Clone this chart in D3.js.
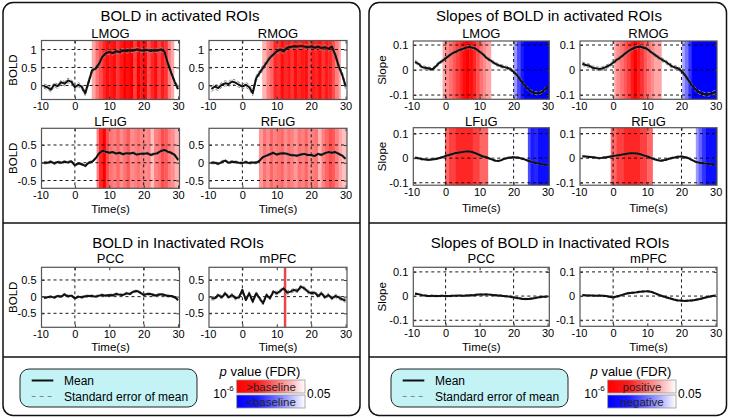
<!DOCTYPE html>
<html><head><meta charset="utf-8">
<script src="https://cdn.jsdelivr.net/npm/d3@7"></script>
<style>body{margin:0;background:#fff} svg{display:block} text{font-family:"Liberation Sans",Arial,sans-serif;font-weight:normal}</style>
</head><body><svg id="c" width="730" height="418"></svg>
<script>
// ---------------- DATA ----------------
const times = [-9,-8,-7,-6,-5,-4,-3,-2,-1,0,1,2,3,4,5,6,7,8,9,10,11,12,13,14,15,16,17,18,19,20,21,22,23,24,25,26,27,28,29,30];
const xTicks = [-10,0,10,20,30];
const xGrid = [0,20];
const boldTicksTop = [0,0.5,1];
const boldTicksLow = [-0.5,0,0.5];
const slopeTicks = [-0.1,0,0.1];

// BOLD in activated ROIs
const boldLMOG = [-0.02,-0.05,-0.12,0.02,-0.02,0.09,0.05,0.14,0.10,-0.05,0.02,-0.04,-0.22,0.10,0.42,0.47,0.60,0.80,0.90,0.93,0.90,0.95,0.93,0.97,0.96,0.98,0.97,1.00,0.98,0.97,0.99,0.96,0.98,0.97,1.00,0.95,0.62,0.35,0.10,-0.10];
const boldRMOG = [-0.10,-0.03,-0.07,0.02,0.06,0.04,0.11,0.08,0.02,-0.03,0.02,-0.05,-0.21,0.20,0.35,0.49,0.63,0.77,0.86,0.95,1.00,0.95,1.05,1.07,1.09,1.08,1.10,1.08,1.06,1.09,1.05,1.08,1.04,1.06,1.02,1.08,0.85,0.53,0.30,-0.02];
const boldLFuG = [0.00,0.00,0.03,-0.02,0.02,0.00,0.03,0.01,0.04,-0.07,-0.02,-0.04,-0.09,0.00,0.03,0.12,0.26,0.34,0.31,0.28,0.30,0.26,0.28,0.24,0.27,0.26,0.28,0.23,0.25,0.25,0.27,0.22,0.25,0.27,0.33,0.36,0.31,0.28,0.22,0.08];
const boldRFuG = [0.00,0.00,-0.03,0.02,0.06,0.00,0.03,0.02,0.00,-0.01,0.02,-0.01,0.01,0.00,0.06,0.16,0.20,0.24,0.28,0.23,0.26,0.27,0.25,0.22,0.21,0.20,0.23,0.25,0.22,0.22,0.19,0.25,0.22,0.27,0.30,0.28,0.30,0.25,0.20,0.11];
// BOLD in inactivated ROIs
const boldPCC = [-0.03,-0.02,0.00,-0.03,0.02,0.00,0.07,0.01,0.03,-0.05,0.00,-0.02,0.01,0.02,0.02,0.00,0.03,0.05,0.03,0.05,0.04,0.08,0.06,0.05,0.10,0.08,0.15,0.17,0.12,0.05,0.08,0.08,0.04,0.05,0.07,0.05,0.02,0.02,-0.02,-0.10];
const boldMPFC = [-0.05,-0.05,0.05,-0.02,0.10,-0.02,0.05,-0.05,-0.02,0.20,-0.10,0.10,-0.15,0.10,-0.05,-0.20,0.05,-0.05,0.15,0.10,0.17,0.25,0.12,0.15,0.20,0.17,0.30,0.25,0.15,0.10,0.12,0.02,0.10,-0.02,0.05,-0.05,0.02,-0.02,-0.08,-0.12];
// Slopes of BOLD
const slopeLMOG = [0.033,0.025,0.013,0.009,0.007,0.003,0.013,0.027,0.036,0.047,0.057,0.067,0.073,0.080,0.084,0.089,0.092,0.089,0.084,0.073,0.063,0.049,0.040,0.031,0.023,0.017,0.013,0.009,0.004,-0.007,-0.020,-0.040,-0.057,-0.073,-0.084,-0.091,-0.093,-0.090,-0.080,-0.067];
const slopeRMOG = [0.026,0.020,0.017,0.009,0.007,0.004,0.007,0.013,0.020,0.029,0.040,0.049,0.060,0.071,0.080,0.087,0.092,0.093,0.089,0.084,0.073,0.063,0.053,0.044,0.036,0.027,0.017,0.011,0.007,-0.004,-0.020,-0.040,-0.060,-0.076,-0.087,-0.093,-0.097,-0.097,-0.093,-0.087];
const slopeLFuG = [0.002,0.000,-0.004,-0.005,-0.007,-0.005,-0.003,0.000,0.004,0.009,0.013,0.017,0.021,0.023,0.025,0.027,0.027,0.024,0.019,0.013,0.007,0.004,-0.002,-0.007,-0.011,-0.010,-0.004,0.000,0.003,0.004,0.003,0.000,-0.004,-0.009,-0.014,-0.018,-0.021,-0.023,-0.026,-0.028];
const slopeRFuG = [0.008,0.007,0.005,0.004,0.002,0.000,0.002,0.004,0.006,0.009,0.011,0.013,0.016,0.018,0.020,0.020,0.019,0.016,0.011,0.007,0.001,-0.004,-0.008,-0.010,-0.008,-0.004,0.000,0.003,0.006,0.007,0.004,0.000,-0.007,-0.014,-0.018,-0.020,-0.022,-0.023,-0.025,-0.026];
const slopePCC = [0.010,0.008,0.004,0.002,0.000,0.001,0.000,0.000,0.001,0.000,0.000,0.001,0.001,0.002,0.001,0.002,0.003,0.003,0.005,0.006,0.006,0.007,0.006,0.004,0.003,0.002,0.000,-0.001,-0.003,-0.005,-0.008,-0.010,-0.012,-0.012,-0.011,-0.009,-0.006,-0.004,-0.003,-0.002];
const slopeMPFC = [0.004,0.003,0.002,0.002,0.001,0.002,0.001,0.000,-0.003,-0.005,-0.002,0.002,0.006,0.011,0.013,0.014,0.016,0.018,0.019,0.020,0.018,0.013,0.007,0.002,-0.003,-0.007,-0.011,-0.015,-0.018,-0.019,-0.020,-0.019,-0.018,-0.016,-0.013,-0.010,-0.006,-0.003,0.000,0.002];
// standard error of mean (approximate, per ROI)
const semBold = {LMOG:0.06, RMOG:0.07, LFuG:0.03, RFuG:0.03, PCC:0.03, mPFC:0.05};
const semSlope = {LMOG:0.006, RMOG:0.007, LFuG:0.003, RFuG:0.003, PCC:0.003, mPFC:0.003};

// significance bins [t0, t1, strength 0..1]  (red: >baseline / positive, blue: <baseline / negative)
const sigBoldLMOG = [[4.9,6,0.35],[6,7,0.55],[7,8,0.7],[8,9,0.85],[9,10,0.95],[10,11,0.9],[11,12,0.95],[12,13,0.8],[13,14,0.9],[14,15,1],[15,16,0.95],[16,17,1],[17,18,0.75],[18,19,1],[19,20,0.9],[20,21,0.95],[21,22,0.7],[22,23,0.85],[23,24,0.95],[24,25,0.75],[25,26,0.9],[26,27,0.8],[27,28,0.5],[28,28.75,0.35]];
const sigBoldRMOG = [[5.75,7,0.3],[7,8,0.5],[8,9,0.6],[9,10,0.85],[10,11,0.8],[11,12,0.95],[12,13,0.85],[13,14,0.9],[14,15,0.8],[15,16,0.95],[16,17,0.85],[17,18,0.9],[18,19,0.95],[19,20,0.75],[20,21,0.9],[21,22,0.85],[22,23,0.95],[23,24,0.8],[24,25,0.9],[25,26,0.85],[26,27,0.7],[27,28,0.5],[28,28.5,0.35]];
const sigBoldLFuG = [[6.3,7,0.5],[7,8,0.85],[8,9,1],[9,10,0.7],[10,11,0.55],[11,12,0.5],[12,13,0.6],[13,14,0.45],[14,15,0.55],[15,16,0.65],[16,17,0.45],[17,18,0.5],[18,19,0.55],[19,20,0.5],[20,21,0.45],[21,22,0.5],[22,23,0.25],[23,24,0.5],[24,25,0.55],[25,26,0.7],[26,27,0.65],[27,28,0.5],[28,29,0.45],[29,30.5,0.3]];
const sigBoldRFuG = [[4.8,6,0.4],[6,7,0.55],[7,8,0.45],[8,9,0.6],[9,10,0.5],[10,11,0.55],[11,12,0.6],[12,13,0.45],[13,14,0.55],[14,15,0.5],[15,16,0.4],[16,17,0.55],[17,18,0.5],[18,19,0.6],[19,20,0.45],[20,21,0.5],[21,22,0.55],[22,23,0.3],[23,24,0.5],[24,25,0.6],[25,26,0.7],[26,27,0.65],[27,28,0.5],[28,29,0.35],[29,30.5,0.25]];
const sigSlopeLMOGpos = [[-0.9,0,0.35],[0,1,0.45],[1,2,0.55],[2,3,0.65],[3,4,0.75],[4,5,0.85],[5,6,0.95],[6,7,1],[7,8,0.95],[8,9,0.85],[9,10,0.7],[10,11,0.55],[11,12,0.45],[12,13.3,0.35]];
const sigSlopeLMOGneg = [[20,21,0.4],[21,22,0.7],[22,23,0.9],[23,31,1]];
const sigSlopeRMOGpos = [[0.3,1,0.35],[1,2,0.45],[2,3,0.55],[3,4,0.65],[4,5,0.75],[5,6,0.9],[6,7,1],[7,8,0.9],[8,9,0.8],[9,10,0.65],[10,11,0.55],[11,12,0.45],[12,14.1,0.35]];
const sigSlopeRMOGneg = [[20.2,21,0.35],[21,22,0.55],[22,23,0.8],[23,31,1]];
const sigSlopeLFuGpos = [[-0.2,1,0.6],[1,3,0.75],[3,8,0.85],[8,10,0.75],[10,12.4,0.6]];
const sigSlopeLFuGneg = [[24.2,25,0.7],[25,26,0.9],[26,27,0.85],[27,31,0.95]];
const sigSlopeRFuGpos = [[-0.7,1,0.6],[1,3,0.75],[3,8,0.85],[8,10,0.75],[10,11.5,0.6]];
const sigSlopeRFuGneg = [[24.2,25,0.4],[25,26,0.6],[26,27,0.8],[27,31,0.95]];
const mpfcMarker = [12.4];

// ---------------- DRAWING ----------------
const svg = d3.select("#c");
let clipN = 0;
const red = d3.interpolateRgb("#ffffff", "#ff0000");
const blue = d3.interpolateRgb("#ffffff", "#0000ff");
const FONT = '"Liberation Sans",Arial,sans-serif';

function plot(c) {
  const g = svg.append("g").attr("transform", `translate(${c.x},${c.y})`);
  const x = d3.scaleLinear().domain(c.xd).range([0, c.w]);
  const y = d3.scaleLinear().domain(c.yd).range([c.h, 0]);
  const id = "clip" + (clipN++);
  g.append("clipPath").attr("id", id).append("rect").attr("width", c.w).attr("height", c.h);
  const inner = g.append("g").attr("clip-path", `url(#${id})`);
  const shade = [].concat((c.pos||[]).map(d => [d[0], d[1], red(d[2])]), (c.neg||[]).map(d => [d[0], d[1], blue(d[2])]));
  inner.selectAll("rect.sh").data(shade).join("rect").attr("class","sh")
    .attr("x", d => x(d[0])).attr("width", d => x(d[1]) - x(d[0]) + 0.4)
    .attr("y", 0).attr("height", c.h).attr("fill", d => d[2]);
  inner.selectAll("line.hg").data(c.yTicks).join("line").attr("class","hg")
    .attr("x1", 0).attr("x2", c.w).attr("y1", d => y(d)).attr("y2", d => y(d))
    .attr("stroke", "#000").attr("stroke-width", 0.9).attr("stroke-dasharray", "3,3");
  inner.selectAll("line.vg").data(xGrid).join("line").attr("class","vg")
    .attr("y1", 0).attr("y2", c.h).attr("x1", d => x(d)).attr("x2", d => x(d))
    .attr("stroke", "#000").attr("stroke-width", 0.9).attr("stroke-dasharray", "3,3");
  if (c.marker) inner.selectAll("line.mk").data(c.marker).join("line")
    .attr("y1", 0).attr("y2", c.h).attr("x1", d => x(d)).attr("x2", d => x(d))
    .attr("stroke", "#e8474a").attr("stroke-width", 2.5);
  const line = d3.line().x((d, i) => x(times[i])).y(d => y(d)).curve(c.smooth ? d3.curveCatmullRom : d3.curveLinear);
  [c.sem, -c.sem].forEach(s => {
    inner.append("path").attr("d", line(c.data.map(v => v + s)))
      .attr("fill", "none").attr("stroke", "#888").attr("stroke-width", 1).attr("stroke-dasharray", "3,2");
  });
  inner.append("path").attr("d", line(c.data)).attr("fill", "none").attr("stroke", "#111").attr("stroke-width", 2).attr("stroke-linejoin", "round");
  const ax = (a) => a.tickSize(-3).tickSizeOuter(0);
  const fmt = d => String(d);
  const b = g.append("g").attr("transform", `translate(0,${c.h})`).call(ax(d3.axisBottom(x).tickValues(xTicks).tickFormat(fmt)).tickPadding(3));
  const t = g.append("g").call(ax(d3.axisTop(x).tickValues(xTicks).tickFormat("")));
  const l = g.append("g").call(ax(d3.axisLeft(y).tickValues(c.yTicks).tickFormat(fmt)).tickPadding(5));
  const r = g.append("g").attr("transform", `translate(${c.w},0)`).call(ax(d3.axisRight(y).tickValues(c.yTicks).tickFormat("")));
  [b, t, l, r].forEach(a => {
    a.select(".domain").remove();
    a.selectAll(".tick").filter(d => (a === b || a === t) ? (d < c.xd[0] || d > c.xd[1]) : false).select("line").remove();
    a.selectAll("line").attr("stroke", "#333");
    a.selectAll("text").attr("font-size", 11).attr("fill", "#000").attr("font-family", FONT);
  });
  g.append("rect").attr("width", c.w).attr("height", c.h).attr("fill", "none").attr("stroke", "#555").attr("stroke-width", 1.2);
  g.append("text").attr("x", c.w / 2).attr("y", c.titleY - c.y).attr("text-anchor", "middle").attr("font-size", 13).text(c.title);
  if (c.ylabel) g.append("text").attr("transform", `translate(${c.ylabelX - c.x},${c.h / 2}) rotate(-90)`)
    .attr("text-anchor", "middle").attr("dominant-baseline", "central").attr("font-size", 11.5).text(c.ylabel);
  if (c.xlabelY) g.append("text").attr("x", c.w / 2).attr("y", c.xlabelY - c.y).attr("text-anchor", "middle").attr("font-size", 11.5).text("Time(s)");
}

function panel(x0, x1) {
  svg.append("rect").attr("x", x0).attr("y", 2.5).attr("width", x1 - x0).attr("height", 413).attr("rx", 10)
    .attr("fill", "none").attr("stroke", "#111").attr("stroke-width", 1.5);
  [223, 357].forEach(yy => svg.append("line").attr("x1", x0).attr("x2", x1).attr("y1", yy).attr("y2", yy).attr("stroke", "#111").attr("stroke-width", 1.5));
}
panel(3, 360);
panel(369, 726.5);

function title(txt, x, y) {
  svg.append("text").attr("x", x).attr("y", y).attr("text-anchor", "middle").attr("font-size", 15).text(txt);
}
title("BOLD in activated ROIs", 180, 20.5);
title("Slopes of BOLD in activated ROIs", 549, 20.5);
title("BOLD in Inactivated ROIs", 178, 247.5);
title("Slopes of BOLD in Inactivated ROIs", 550, 247.5);

const BL = {x: 41.5, w: 138, xd: [-9.7, 30.4]};
const BR = {x: 209, w: 138, xd: [-9.7, 30.4]};
const SL = {x: 413.3, w: 136, xd: [-9.5, 30.5]};
const SR = {x: 580, w: 137, xd: [-9.7, 30.4]};
const rowB1 = {y: 40.5, h: 59, yd: [-0.39, 1.25], yTicks: boldTicksTop, titleY: 37.5};
const rowB2 = {y: 128.3, h: 60, yd: [-0.72, 0.97], yTicks: boldTicksLow, titleY: 126, xlabelY: 213};
const rowS1 = {y: 41, h: 58.3, yd: [-0.117, 0.116], yTicks: slopeTicks, titleY: 37.5};
const rowS2 = {y: 127.7, h: 57.5, yd: [-0.11, 0.124], yTicks: slopeTicks, titleY: 126, xlabelY: 212};
const rowB3 = {y: 267.3, h: 60, yd: [-0.92, 0.88], yTicks: boldTicksLow, titleY: 262.5, xlabelY: 351.5};
const rowS3 = {y: 267.3, h: 59, yd: [-0.125, 0.119], yTicks: slopeTicks, titleY: 262.5, xlabelY: 351.5};

plot({...BL, ...rowB1, title: "LMOG", data: boldLMOG, sem: semBold.LMOG, pos: sigBoldLMOG, ylabel: "BOLD", ylabelX: 13});
plot({...BR, ...rowB1, title: "RMOG", data: boldRMOG, sem: semBold.RMOG, pos: sigBoldRMOG});
plot({...BL, ...rowB2, title: "LFuG", data: boldLFuG, sem: semBold.LFuG, pos: sigBoldLFuG, ylabel: "BOLD", ylabelX: 13});
plot({...BR, ...rowB2, title: "RFuG", data: boldRFuG, sem: semBold.RFuG, pos: sigBoldRFuG});
plot({...SL, ...rowS1, title: "LMOG", data: slopeLMOG, sem: semSlope.LMOG, pos: sigSlopeLMOGpos, neg: sigSlopeLMOGneg, smooth: true, ylabel: "Slope", ylabelX: 382});
plot({...SR, ...rowS1, title: "RMOG", data: slopeRMOG, sem: semSlope.RMOG, pos: sigSlopeRMOGpos, neg: sigSlopeRMOGneg, smooth: true});
plot({...SL, ...rowS2, title: "LFuG", data: slopeLFuG, sem: semSlope.LFuG, pos: sigSlopeLFuGpos, neg: sigSlopeLFuGneg, smooth: true, ylabel: "Slope", ylabelX: 382});
plot({...SR, ...rowS2, title: "RFuG", data: slopeRFuG, sem: semSlope.RFuG, pos: sigSlopeRFuGpos, neg: sigSlopeRFuGneg, smooth: true});
plot({...BL, ...rowB3, title: "PCC", data: boldPCC, sem: semBold.PCC, ylabel: "BOLD", ylabelX: 13});
plot({...BR, ...rowB3, title: "mPFC", data: boldMPFC, sem: semBold.mPFC, marker: mpfcMarker});
plot({...SL, ...rowS3, title: "PCC", data: slopePCC, sem: semSlope.PCC, smooth: true, ylabel: "Slope", ylabelX: 382});
plot({...SR, ...rowS3, title: "mPFC", data: slopeMPFC, sem: semSlope.mPFC, smooth: true});

const defs = svg.append("defs");
function grad(id, col) {
  const gr = defs.append("linearGradient").attr("id", id);
  gr.append("stop").attr("offset", 0).attr("stop-color", col);
  gr.append("stop").attr("offset", 0.3).attr("stop-color", col).attr("stop-opacity", 0.9);
  gr.append("stop").attr("offset", 1).attr("stop-color", "#ffffff");
}
grad("gRed", "#ff0000");
grad("gBlue", "#0000ff");

function legend(dx, posLabel, negLabel) {
  const g = svg.append("g").attr("transform", `translate(${dx},0)`);
  g.append("rect").attr("x", 20).attr("y", 369).attr("width", 177).attr("height", 38).attr("rx", 9)
    .attr("fill", "#c4f3f6").attr("stroke", "#222").attr("stroke-width", 1);
  g.append("line").attr("x1", 31.7).attr("x2", 53.3).attr("y1", 380.5).attr("y2", 380.5).attr("stroke", "#111").attr("stroke-width", 2);
  g.append("line").attr("x1", 31.7).attr("x2", 53.3).attr("y1", 396.5).attr("y2", 396.5).attr("stroke", "#888").attr("stroke-width", 1).attr("stroke-dasharray", "4,4");
  g.append("text").attr("x", 64).attr("y", 384.5).attr("font-size", 12).text("Mean");
  g.append("text").attr("x", 64).attr("y", 400.5).attr("font-size", 12).text("Standard error of mean");
  const pt = g.append("text").attr("x", 260).attr("y", 376).attr("text-anchor", "middle").attr("font-size", 13);
  pt.append("tspan").attr("font-style", "italic").text("p");
  pt.append("tspan").text(" value (FDR)");
  g.append("rect").attr("x", 236.7).attr("y", 380).attr("width", 68.3).attr("height", 13).attr("fill", "url(#gRed)").attr("stroke", "#999").attr("stroke-width", 0.8);
  g.append("rect").attr("x", 236.7).attr("y", 395).attr("width", 68.3).attr("height", 13).attr("fill", "url(#gBlue)").attr("stroke", "#999").attr("stroke-width", 0.8);
  g.append("text").attr("x", 271).attr("y", 390.5).attr("text-anchor", "middle").attr("font-size", 11.5).attr("fill", "#222").text(posLabel);
  g.append("text").attr("x", 271).attr("y", 405.5).attr("text-anchor", "middle").attr("font-size", 11.5).attr("fill", "#222").text(negLabel);
  const tt = g.append("text").attr("x", 213.3).attr("y", 397.5).attr("font-size", 12);
  tt.append("tspan").text("10");
  tt.append("tspan").attr("font-size", 8).attr("dy", -7).text("-6");
  g.append("text").attr("x", 307).attr("y", 397.5).attr("font-size", 12).text("0.05");
}
legend(0, ">baseline", "<baseline");
legend(371, "positive", "negative");
</script></body></html>
